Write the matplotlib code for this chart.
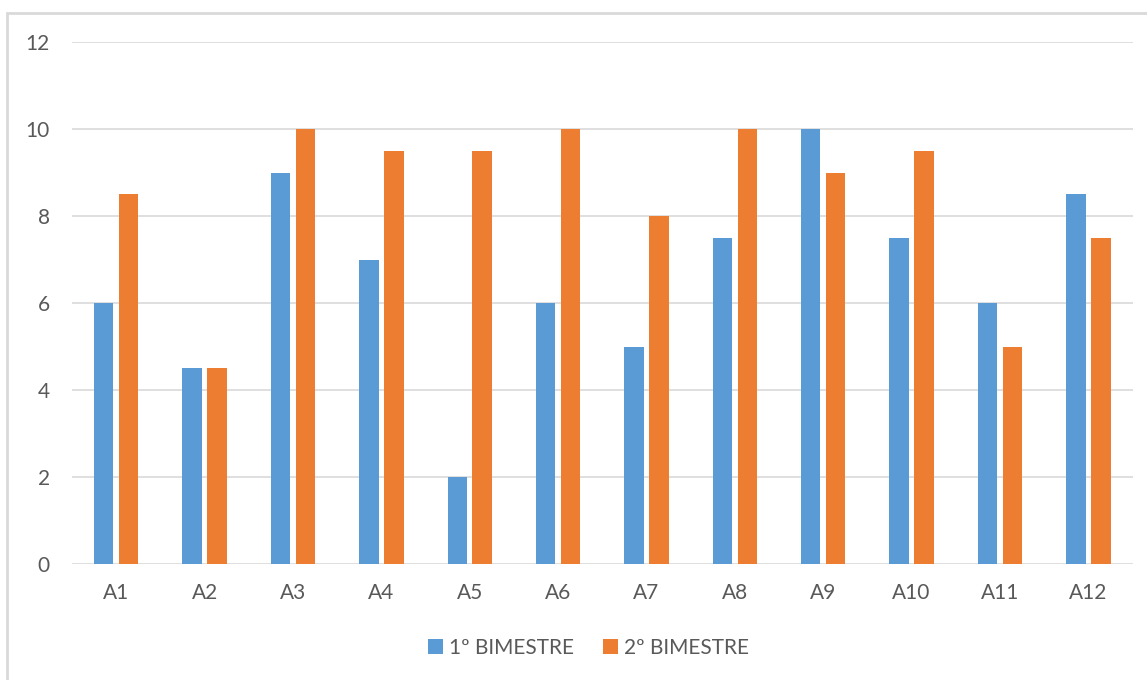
import matplotlib
matplotlib.use("Agg")
import matplotlib.pyplot as plt
import numpy as np
from matplotlib.patches import Rectangle

# grades per student, two bimesters
alunos = ["A1", "A2", "A3", "A4", "A5", "A6", "A7", "A8", "A9", "A10", "A11", "A12"]
bim1 = [6, 4.5, 9, 7, 2, 6, 5, 7.5, 10, 7.5, 6, 8.5]
bim2 = [8.5, 4.5, 10, 9.5, 9.5, 10, 8, 10, 9, 9.5, 5, 7.5]
series_names = ["1º BIMESTRE", "2º BIMESTRE"]
y_ticks = [0, 2, 4, 6, 8, 10, 12]

BLUE = "#5B9BD5"
ORANGE = "#ED7D31"
GRID = "#D9D9D9"
TEXT = "#595959"

plt.rcParams["font.family"] = ["Lato", "DejaVu Sans"]

fig = plt.figure(figsize=(11.47, 6.8), dpi=100)
ax = fig.add_axes([0.0628, 0.1706, 0.9246, 0.7676])

x = np.arange(len(alunos))
w = 0.22
off = 0.141
ax.bar(x - off, bim1, width=w, color=BLUE, label=series_names[0], zorder=3)
ax.bar(x + off, bim2, width=w, color=ORANGE, label=series_names[1], zorder=3)

ax.set_xlim(-0.5, len(alunos) - 0.5)
ax.set_ylim(0, 12)
ax.set_yticks(y_ticks)
ax.set_xticks(x)
ax.set_xticklabels(alunos)
ax.tick_params(axis="both", length=0, labelsize=15, colors=TEXT)
ax.tick_params(axis="y", pad=16)
ax.tick_params(axis="x", pad=14)
ax.yaxis.grid(True, color=GRID, linewidth=1.2, zorder=0)
for s in ax.spines.values():
    s.set_visible(False)

leg = fig.legend(loc="center", bbox_to_anchor=(0.513, 1 - 648 / 680), ncol=2,
                 frameon=False, fontsize=15, handlelength=0.7, handleheight=0.7,
                 handletextpad=0.3, columnspacing=1.4, labelcolor=TEXT)

# outer chart border (runs off the right and bottom edges)
fig.patches.append(Rectangle((7.5 / 1147, -0.05), 1.2, 1 - 13 / 680 + 0.05,
                             transform=fig.transFigure, fill=False,
                             edgecolor=GRID, linewidth=2, clip_on=False))

fig.savefig("out.png", dpi=100)
